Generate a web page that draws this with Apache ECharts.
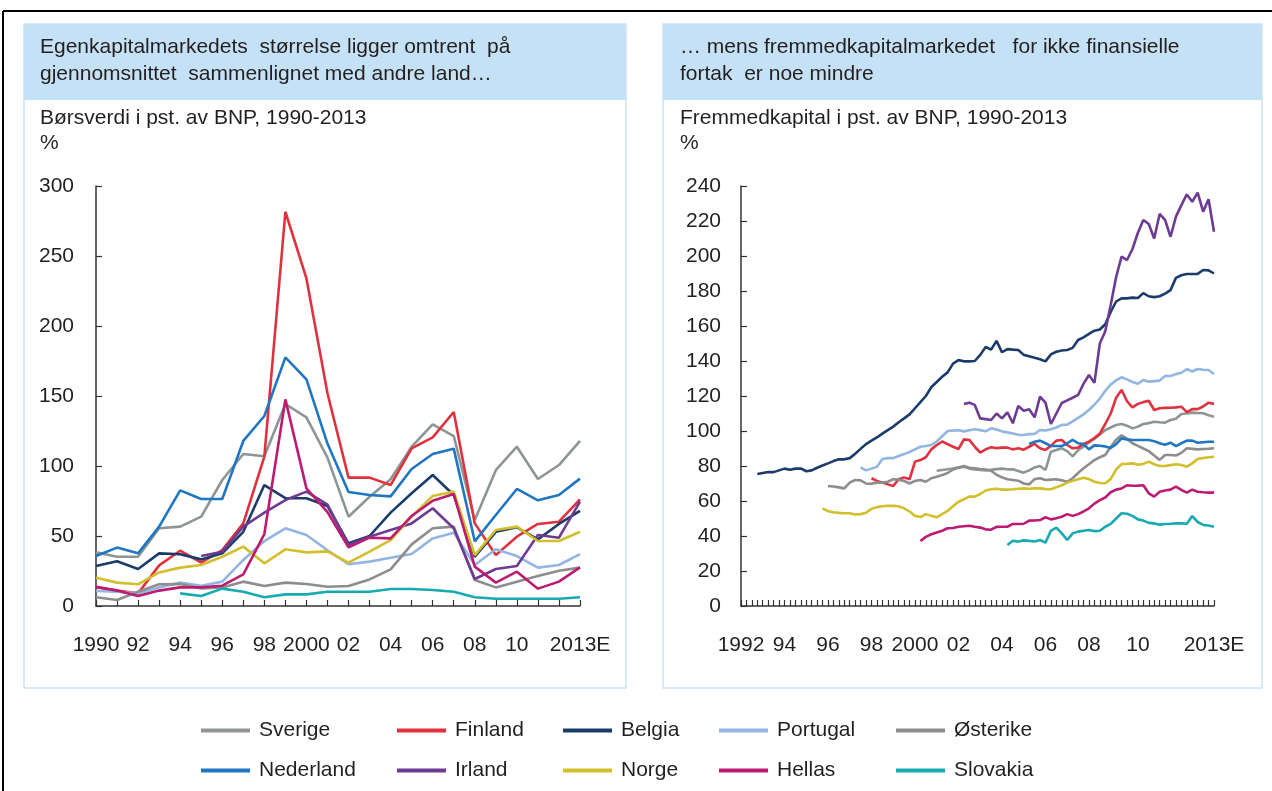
<!DOCTYPE html>
<html>
<head>
<meta charset="utf-8">
<script src="https://cdn.jsdelivr.net/npm/echarts@6/dist/echarts.min.js"></script>
<style>
html, body { margin: 0; padding: 0; background: #fff; }
#chart { width: 1272px; height: 791px; }
</style>
</head>
<body>
<div id="chart"></div>
<script>
// Venstre: Børsverdi i pst. av BNP, årlig 1990-2013
var years = ['1990','1991','1992','1993','1994','1995','1996','1997','1998','1999','2000','2001',
             '2002','2003','2004','2005','2006','2007','2008','2009','2010','2011','2012','2013'];
var yearTicks = { '1990':'1990', '1992':'92', '1994':'94', '1996':'96', '1998':'98', '2000':'2000',
                  '2002':'02', '2004':'04', '2006':'06', '2008':'08', '2010':'10', '2013':'2013E' };

var sverigeB   = [38.3, 35.2, 35.2, 55.5, 56.7, 63.8, 90, 108.6, 107, 144.3, 134.8, 106, 63.8, 78, 90.5, 113.8, 129.8, 121.4, 61.4, 97, 113.8, 90.7, 100.7, 117.9];
var finlandB   = [13.5, 11, 9, 29, 39.5, 31, 40, 59, 106.7, 281.6, 234, 152, 91.7, 91.7, 86.4, 112.6, 120.5, 138.6, 59, 36.4, 49.5, 58.6, 60.2, 76.2];
var belgiaB    = [28.6, 32, 26.4, 37.6, 37, 33.3, 37.6, 53, 86.4, 77, 77, 71.4, 44.8, 50, 66.7, 80.5, 93.6, 79.3, 35.2, 53, 56.2, 47.6, 58.6, 68];
var portugalB  = [10.7, 10.2, 9, 13.3, 16.7, 14.5, 17.4, 32.9, 46.4, 55.5, 50.7, 39.8, 29.8, 31.7, 34.5, 37.1, 48.3, 52.4, 29.3, 40.5, 35.7, 27.4, 29.3, 37.1];
var osterikeB  = [6.2, 4.3, 10.2, 15.5, 15.7, 12.6, 13.3, 17.4, 14.3, 16.7, 15.7, 13.8, 14.3, 19, 26.2, 44, 55.5, 56.7, 18.6, 13.3, 17.4, 21.4, 25.2, 27.4];
var nederlandB = [35.7, 41.7, 37.6, 56.7, 82.6, 76.4, 76.4, 117.9, 135.7, 177.6, 161.9, 116, 81.4, 79.3, 78.3, 97.9, 108.6, 112.4, 46.2, 65, 83.6, 75.5, 79.3, 91];
var irlandB    = [null, null, null, null, null, 35.7, 38.8, 56.7, 66.7, 75.7, 81.7, 72.5, 43.6, 49.5, 54.3, 59, 69.8, 55.5, 19.3, 26.4, 28.6, 50.7, 48.8, 74.5];
var norgeB     = [20.2, 16.7, 15.5, 24, 27.4, 29.3, 35.2, 42.4, 30.5, 40.5, 38.3, 39, 31, 38.8, 47.1, 63.8, 78.6, 81.7, 36.4, 54.3, 56.7, 46.4, 46.4, 53];
var hellasB    = [13.8, 11, 7.1, 11, 13.3, 13.3, 14.5, 22.6, 51.4, 147.6, 84, 67, 41.9, 48.8, 48.3, 64.3, 75.2, 80, 28.1, 16.7, 24.5, 12.4, 17.4, 27.6];
var slovakiaB  = [null, null, null, null, 9, 7.1, 12.4, 10.2, 6.2, 8.3, 8.3, 10.2, 10.2, 10.2, 12.1, 12.1, 11.4, 10.2, 6.2, 5.2, 5.2, 5.2, 5.2, 6.2];

// Høyre: Fremmedkapital i pst. av BNP, kvartalsvis 1992-2013
var quarters = [];
for (var y = 1992; y <= 2013; y++) {
    for (var q = 1; q <= 4; q++) quarters.push(y + 'K' + q);
}
var quarterTicks = { '1992K1':'1992', '1994K1':'94', '1996K1':'96', '1998K1':'98', '2000K1':'2000',
                     '2002K1':'02', '2004K1':'04', '2006K1':'06', '2008K1':'08', '2010K2':'10', '2013K4':'2013E' };

var belgiaF = [75.4, 76, 76.6, 76.5, 77.5, 78.5, 77.8, 78.5, 78.6, 77,
    77.5, 79, 80.3, 81.5, 82.8, 83.8, 83.8, 84.5, 87, 89.8,
    92.5, 94.5, 96.3, 98.5, 100.5, 102.5, 105, 107.2, 109.5, 113,
    116.5, 120, 125, 128, 131, 133.5, 138.5, 140.5, 139.8, 139.8,
    140, 143.5, 148, 146.5, 151.5, 145, 146.8, 146.5, 146.3, 143.5,
    142.7, 141.8, 141, 139.8, 143.8, 145.3, 146, 146.3, 147.5, 152,
    153.5, 155.5, 157.3, 158, 161, 168, 174, 175.8, 175.8, 176.2,
    176, 178.8, 177, 176.5, 177, 178.5, 180.5, 187.5, 189, 189.7,
    189.7, 189.8, 192, 191.8, 190];
var irlandF = [115.4, 116.2, 114.9, 107.2, 106.8, 106.3, 110, 107.2, 110.7, 104.4,
    114.3, 111.6, 112.4, 107.8, 119.6, 116.2, 104, 110, 116, 117.5,
    119, 120.6, 127, 132, 127.5, 150, 157, 172, 188, 199.6,
    197.7, 204, 213.3, 220.6, 218.3, 210, 224, 220.6, 211, 222.5,
    229.1, 235.2, 231, 236.2, 225.3, 232.4, 213.9];
var portugalF = [79.2, 77.5, 78.5, 79.5, 84, 84.5, 84.5, 85.7, 86.8, 88,
    89.5, 91, 91.4, 92, 94, 97, 100, 100.2, 100.4, 99.8,
    100.4, 101, 100.5, 99.8, 101.5, 100.8, 99.8, 99.2, 98.6, 97.8,
    97.7, 98.2, 98.3, 100.6, 100.3, 101, 102, 103.5, 103.6, 105.5,
    107.5, 109.5, 112, 115, 118.5, 123, 126.5, 129, 130.7, 129.5,
    128, 127, 129.1, 128.2, 128.5, 128.8, 131.4, 131.4, 132.5, 133.3,
    135.4, 134, 135.4, 135, 134.9, 132.6];
var finlandF = [73, 71.5, 70.5, 69.5, 68.6, 72.5, 73.5, 72.4, 82.5, 83.4,
    85, 89.5, 92, 94, 92.5, 91, 89.7, 95.2, 94.9, 91,
    87.6, 89.5, 90.7, 90.2, 90.5, 90.5, 89.5, 90.1, 89.3, 91,
    92.6, 90.1, 89.2, 91.5, 94.5, 94.9, 92, 90.1, 90.5, 92.6,
    93.9, 96, 98.5, 104, 110, 119, 123.5, 117, 113.5, 115.5,
    116.5, 117.3, 112, 113, 113.2, 113.3, 113.5, 113.9, 110.8, 112.5,
    112.5, 114, 116.2, 115.5];
var sverigeF = [77.3, 77.7, 78.1, 78.6, 79.2, 79.5, 78.5, 78, 77.8, 77.5,
    77.8, 78.2, 78.5, 78.1, 78.1, 77.2, 76.2, 77.5, 79.2, 80,
    77.7, 88.2, 89.1, 90.1, 88.5, 85.5, 89, 91, 93.5, 95.5,
    98, 100.5, 102, 103.4, 104, 103, 101.5, 102.5, 104, 104.5,
    105.3, 105, 104.8, 106.3, 107, 109.7, 110, 110.5, 110.3, 110.1,
    109, 108.2];
var osterikeF = [68.6, 68.3, 67.8, 67.2, 70.5, 72, 71.8, 70, 69.8, 70.5,
    70.5, 71, 72.4, 72.2, 71.5, 70, 71.5, 72, 71, 73,
    73.9, 74.8, 76, 78, 79, 80, 79, 78.7, 78.3, 78,
    77.3, 75, 73.5, 72.4, 72, 71.6, 70, 69.5, 72.5, 73,
    72, 72.2, 72.4, 71.8, 71, 73, 76, 78.7, 81, 83.4,
    85, 86.3, 91, 95, 97.5, 95.5, 93, 91.5, 90, 88.5,
    86, 83.5, 86.3, 86.3, 86, 87.5, 90.1, 89.8, 89.5, 89.7,
    89.9, 90.1];
var nederlandF = [92.6, 93.9, 94.5, 93, 91.5, 91.4, 91.4, 93, 94.9, 93,
    92.5, 89.5, 91.8, 91.6, 91.2, 90.3, 92.5, 95.8, 95.2, 94.9,
    94.9, 94.9, 94.9, 94.2, 93, 92.2, 93.3, 91.4, 93, 94.5,
    94.5, 93.3, 93.6, 93.9, 93.9];
var norgeF = [55.8, 54.2, 53.6, 53.2, 53, 53, 52.3, 52.5, 53.3, 55.5,
    56.5, 57, 57.3, 57.2, 57, 55.8, 54, 51.5, 50.8, 52.5,
    51.5, 50.7, 52.5, 54.3, 57, 59.6, 61, 62.5, 62.5, 64,
    66, 66.7, 67, 66.5, 66.5, 66.7, 67, 67.2, 67, 67.2,
    67.2, 66.8, 66.7, 67.8, 69, 70.5, 71.5, 72.4, 73.3, 72.5,
    71, 70.3, 70.1, 72.5, 78, 81.1, 81.2, 81.5, 80.7, 81.2,
    82.5, 81, 80, 80, 80.5, 81, 80.6, 79.6, 81.5, 84,
    84.6, 85, 85.3];
var hellasF = [37.1, 39.5, 41, 42, 43, 44.4, 44.6, 45.3, 45.6, 45.9,
    45.3, 44.8, 43.8, 43.6, 45.2, 45.3, 45.3, 46.9, 46.9, 47,
    48.8, 48.9, 49.1, 50.7, 49.5, 50.2, 51, 52.5, 51.5, 52.5,
    54, 55.8, 58.5, 60.5, 62, 65, 66.5, 67.2, 69, 68.7,
    68.8, 69, 64.4, 62.5, 65.3, 66, 66.5, 68.2, 66.3, 64.8,
    66.5, 65.3, 65, 64.8, 64.8];
var slovakiaF = [34.9, 37.3, 36.8, 37.5, 37.2, 36.9, 37.7, 36.2, 43, 44.8,
    41.5, 37.7, 41.5, 42.5, 43, 43.4, 42.8, 43, 45.3, 46.9,
    50, 53, 52.7, 51.5, 49.5, 48.8, 47.5, 47.2, 46.5, 46.9,
    47, 47.2, 47.2, 47, 51.4, 48, 46.3, 46, 45.3];

// første kvartal med data for hver serie
var startF = { Sverige:'2001K1', Finland:'1998K1', Belgia:'1992K4', Portugal:'1997K3', 'Østerike':'1996K1',
               Nederland:'2005K2', Irland:'2002K2', Norge:'1995K4', Hellas:'2000K2', Slovakia:'2004K2' };

var names  = ['Sverige','Finland','Belgia','Portugal','Østerike','Nederland','Irland','Norge','Hellas','Slovakia'];
var colors = ['#8e9595','#e0323e','#1b3c6b','#93b5e1','#8d8d8d','#1f76c3','#6d3b92','#d2bf2b','#bb1c72','#17aab0'];
var annual = [sverigeB, finlandB, belgiaB, portugalB, osterikeB, nederlandB, irlandB, norgeB, hellasB, slovakiaB];
var quarterly = [sverigeF, finlandF, belgiaF, portugalF, osterikeF, nederlandF, irlandF, norgeF, hellasF, slovakiaF];

function place(start, values) {
    var out = quarters.map(function() { return null; });
    var s = quarters.indexOf(start);
    values.forEach(function(v, k) { out[s + k] = v; });
    return out;
}

var FONT = '"Liberation Sans", Arial, sans-serif';
var TXT = '#231f20';

var series = [];
names.forEach(function(n, k) {
    series.push({ name: n, type: 'line', xAxisIndex: 0, yAxisIndex: 0, data: annual[k],
        symbol: 'none', lineStyle: { width: 2.6, color: colors[k] }, itemStyle: { color: colors[k] } });
});
names.forEach(function(n, k) {
    series.push({ name: n, type: 'line', xAxisIndex: 1, yAxisIndex: 1, data: place(startF[n], quarterly[k]),
        symbol: 'none', lineStyle: { width: 2.6, color: colors[k] }, itemStyle: { color: colors[k] } });
});

function xAxis(idx, cats, ticks) {
    return {
        type: 'category', gridIndex: idx, data: cats, boundaryGap: false,
        axisLine: { lineStyle: { color: '#333', width: 1.5 } },
        axisTick: { inside: true, length: 6, interval: 0, lineStyle: { color: '#333', width: 1.2 } },
        axisLabel: { interval: 0, margin: 29, color: TXT, fontSize: 21, fontFamily: FONT,
            formatter: function(v) { return ticks[v] || ''; } },
        splitLine: { show: false }
    };
}
function yAxis(idx, max, step, margin) {
    return {
        type: 'value', gridIndex: idx, min: 0, max: max, interval: step,
        axisLine: { show: true, lineStyle: { color: '#333', width: 1.5 } },
        axisTick: { show: true, inside: true, length: 6, lineStyle: { color: '#333', width: 1.2 } },
        axisLabel: { margin: margin, color: TXT, fontSize: 21, fontFamily: FONT },
        splitLine: { show: false }
    };
}

var legendCols = [['Sverige','Nederland'], ['Finland','Irland'], ['Belgia','Norge'], ['Portugal','Hellas'], ['Østerike','Slovakia']];
var legendLeft = [196, 392, 558, 714, 891];
var legends = legendCols.map(function(col, k) {
    return {
        orient: 'vertical', left: legendLeft[k], top: 715, data: col,
        icon: 'rect', itemWidth: 49, itemHeight: 4, itemGap: 19,
        textStyle: { color: TXT, fontSize: 21, fontFamily: FONT, padding: [0, 0, 0, 4] },
        selectedMode: false
    };
});

function txt(x, y, s) {
    return { type: 'text', x: x, y: y, silent: true,
        style: { text: s, fill: TXT, font: '21px ' + FONT, textVerticalAlign: 'middle', verticalAlign: 'middle' } };
}

var graphic = [
    { type: 'rect', shape: { x: 24, y: 24, width: 602, height: 76 }, style: { fill: '#c5e1f5' }, silent: true },
    { type: 'rect', shape: { x: 663, y: 24, width: 599, height: 76 }, style: { fill: '#c5e1f5' }, silent: true },
    { type: 'rect', shape: { x: 24, y: 24, width: 602, height: 664 }, style: { fill: 'none', stroke: '#c9e3f5', lineWidth: 1.5 }, silent: true },
    { type: 'rect', shape: { x: 663, y: 24, width: 599, height: 664 }, style: { fill: 'none', stroke: '#c9e3f5', lineWidth: 1.5 }, silent: true },
    { type: 'line', shape: { x1: 3, y1: 11, x2: 1272, y2: 11 }, style: { stroke: '#000', lineWidth: 2 }, silent: true },
    { type: 'line', shape: { x1: 3, y1: 11, x2: 3, y2: 791 }, style: { stroke: '#000', lineWidth: 2 }, silent: true },
    txt(40, 47, 'Egenkapitalmarkedets  størrelse ligger omtrent  på'),
    txt(40, 74, 'gjennomsnittet  sammenlignet med andre land…'),
    txt(40, 118, 'Børsverdi i pst. av BNP, 1990-2013'),
    txt(40, 143, '%'),
    txt(680, 47, '… mens fremmedkapitalmarkedet   for ikke finansielle'),
    txt(680, 74, 'fortak  er noe mindre'),
    txt(680, 118, 'Fremmedkapital i pst. av BNP, 1990-2013'),
    txt(680, 143, '%')
];

var chart = echarts.init(document.getElementById('chart'));
chart.setOption({
    animation: false,
    backgroundColor: '#fff',
    graphic: graphic,
    legend: legends,
    grid: [
        { left: 96, top: 186, width: 484, height: 420 },
        { left: 741, top: 186, width: 473, height: 420 }
    ],
    xAxis: [xAxis(0, years, yearTicks), xAxis(1, quarters, quarterTicks)],
    yAxis: [yAxis(0, 300, 50, 22), yAxis(1, 240, 20, 20)],
    series: series
});
</script>
</body>
</html>
